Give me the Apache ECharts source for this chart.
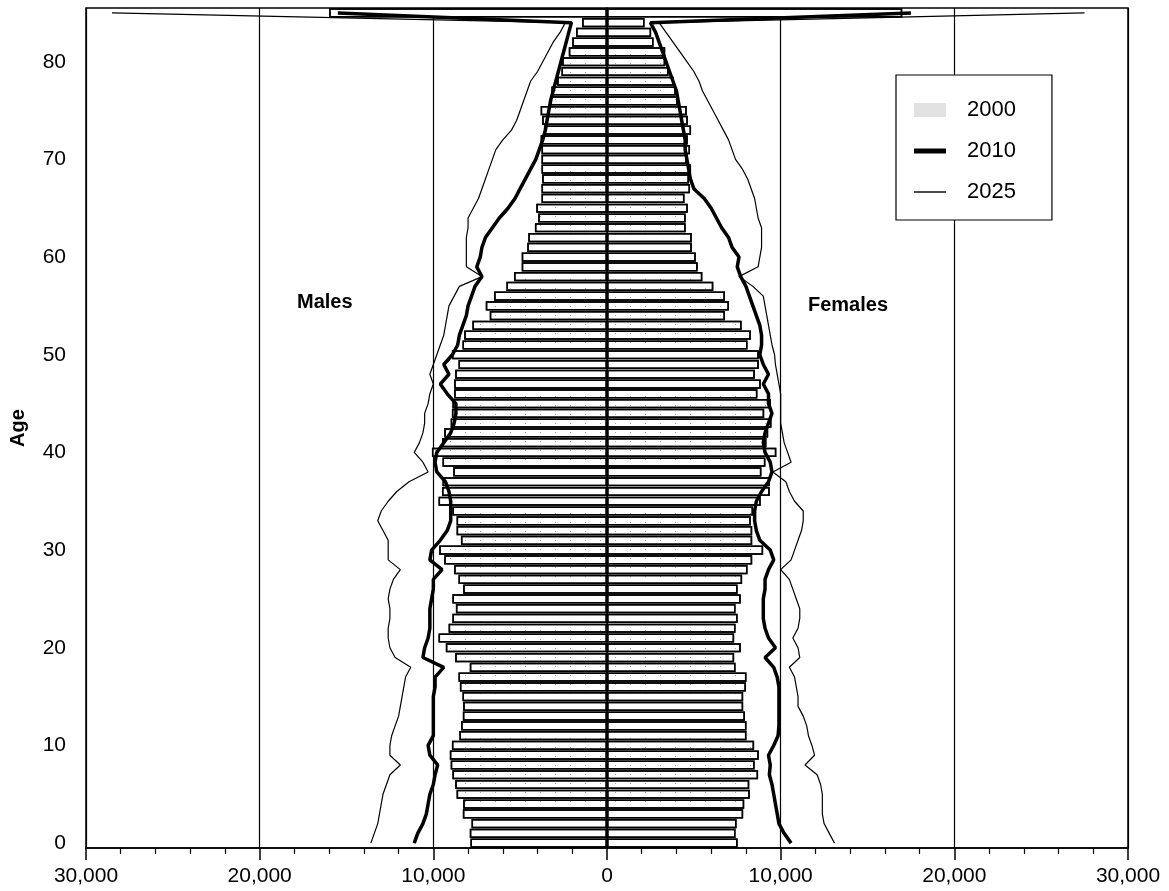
<!DOCTYPE html>
<html><head><meta charset="utf-8">
<script src="https://cdn.jsdelivr.net/npm/echarts@6/dist/echarts.min.js"></script>
<style>html,body{margin:0;padding:0;background:#fff}#c{width:1169px;height:891px}</style>
</head><body><div id="c"></div>
<script>
const ages = ['0','1','2','3','4','5','6','7','8','9','10','11','12','13','14','15','16','17','18','19','20','21','22','23','24','25','26','27','28','29','30','31','32','33','34','35','36','37','38','39','40','41','42','43','44','45','46','47','48','49','50','51','52','53','54','55','56','57','58','59','60','61','62','63','64','65','66','67','68','69','70','71','72','73','74','75','76','77','78','79','80','81','82','83','84','85+'];

// 2000 (bars), persons
const males2000 = [7860,7900,7800,8300,8280,8660,8740,8900,9000,9050,8930,8500,8400,8300,8280,8320,8470,8550,7900,8740,9280,9700,9120,8900,8700,8900,8280,8550,8800,9370,9660,8410,8660,8660,8900,9700,9500,9470,8850,9470,10080,9500,9370,9000,8930,8900,8800,8800,8740,8550,8930,8320,8220,7750,6750,6980,6500,5790,5350,4910,4910,4590,4530,4150,3960,4070,3770,3770,3730,3770,3770,3770,3820,3630,3730,3820,3250,3200,2870,2620,2580,2200,2000,1780,1430,16000];
const females2000 = [7520,7400,7460,7840,7900,8220,8190,8700,8500,8740,8470,8030,8030,7940,7840,7840,8000,8030,7400,7320,7700,7320,7400,7520,7400,7700,7520,7780,8090,8360,8990,8360,8360,8280,8410,8850,9370,9370,8890,9120,9750,9180,9280,9470,9050,9430,8660,8850,8510,8740,8740,8090,8280,7750,6790,7020,6790,6120,5490,5220,5110,4880,4880,4530,4530,4650,4460,4780,4720,4840,4590,4780,4650,4840,4650,4590,4070,3960,3830,3540,3350,3350,2680,2540,2160,17000];

// 2010 (thick line)
const males2010 = [11100,10900,10600,10400,10300,10200,10000,9900,9750,10200,10300,10000,10000,10000,10000,10000,9900,9900,9400,10600,10500,10300,10200,10200,10200,10100,10000,10000,9500,10200,10100,9600,9200,9000,9000,9000,9100,9300,9800,9900,9800,9400,9000,8800,8700,8700,9200,9600,9100,9400,8900,8600,8500,8300,8100,8000,7800,7600,7200,7500,7300,7200,7000,6600,6200,5700,5300,5000,4700,4400,4100,3900,3700,3550,3450,3350,3250,3100,2950,2800,2650,2500,2350,2200,2050,15500];
const females2010 = [10600,10200,9900,9800,9700,9600,9500,9350,9400,9300,9600,9850,9900,9900,9900,9900,9900,9800,9600,9100,9700,9300,9100,9000,9000,9000,9100,9100,9300,9600,9400,8800,8600,8500,8500,8600,8900,9300,9500,9400,9100,9000,9100,9300,9500,9300,9300,9000,9300,9000,8800,8900,8900,8800,8600,8400,8200,8000,7700,7500,7600,7200,7000,6600,6300,6000,5600,5000,4800,4700,4600,4500,4500,4400,4300,4200,4100,4000,3800,3600,3400,3200,3000,2800,2500,17500];

// 2025 (thin line)
const males2025 = [13600,13400,13200,13100,13000,12900,12700,12500,11900,12500,12500,12400,12200,12000,11900,11800,11700,11600,11300,12200,12500,12600,12600,12500,12500,12600,12500,12300,11900,12600,12600,12600,12900,13200,13000,12600,12100,11400,10300,10600,11100,10800,10600,10500,10500,10300,10200,10000,10200,10000,9800,9600,9400,9300,9200,9100,8800,8500,7200,8100,8100,8100,8100,8000,8000,7700,7400,7200,7000,6800,6600,6400,6000,5500,5200,5000,4800,4600,4400,4000,3700,3400,3100,2700,2400,28500];
const females2025 = [13100,12800,12500,12400,12400,12400,12300,12100,11400,11950,11800,11600,11500,11300,11000,11000,10900,10800,10500,11100,11000,10700,11000,11100,11100,10900,10700,10500,10000,10600,10800,11000,11200,11300,11300,10800,10500,10300,9550,10600,10400,10200,10100,10000,10000,10000,10000,9900,9800,9700,9650,9500,9400,9300,9200,9100,9000,8400,7600,8700,8800,8900,8900,8900,8700,8600,8500,8300,8100,7800,7400,7200,7000,6700,6400,6100,5800,5500,5300,5000,4600,4200,3800,3400,3000,27500];

const xTicks = [-30000,-20000,-10000,0,10000,20000,30000];
const FONT = '"Liberation Sans", Arial, sans-serif';
const neg = a => a.map(v => -v);

const barStyle = {
  color: '#ffffff', borderColor: '#000', borderWidth: 1.5,
  decal: { symbol: 'rect', symbolSize: 1, color: 'rgba(0,0,0,0.35)', dashArrayX: [1, 14], dashArrayY: [1, 8], rotation: 0 }
};

const chart = echarts.init(document.getElementById('c'), null, {renderer: 'canvas'});
chart.setOption({
  animation: false,
  backgroundColor: '#fff',
  grid: { left: 82, right: 41, top: 8, bottom: 43, show: true, borderColor: '#000', borderWidth: 1.5, containLabel: false },
  xAxis: {
    type: 'value', min: xTicks[0], max: xTicks[xTicks.length - 1], interval: 10000,
    axisLine: { show: true, lineStyle: { color: '#000', width: 1.5 } },
    axisTick: { show: true, length: 12, lineStyle: { color: '#000', width: 1.5 } },
    minorTick: { show: true, splitNumber: 5, length: 6, lineStyle: { color: '#000', width: 1.2 } },
    splitLine: { show: true, lineStyle: { color: '#000', width: 1.2 } },
    axisLabel: { margin: 18, color: '#000', fontSize: 21, fontFamily: FONT,
      formatter: v => Math.abs(v).toLocaleString('en-US') }
  },
  yAxis: {
    type: 'category', data: ages, boundaryGap: true,
    name: 'Age', nameLocation: 'middle', nameGap: 58, nameRotate: 90,
    nameTextStyle: { fontSize: 20, fontWeight: 'bold', fontFamily: FONT, color: '#000' },
    axisLine: { show: true, lineStyle: { color: '#000', width: 1.5 } },
    axisTick: { show: false },
    axisLabel: { interval: 9, margin: 20, color: '#000', fontSize: 21, fontFamily: FONT }
  },
  legend: {
    orient: 'vertical', left: 896, top: 75,
    padding: [24, 36, 17, 18], itemGap: 19, itemWidth: 32, itemHeight: 14,
    borderColor: '#000', borderWidth: 1.2, backgroundColor: '#fff',
    textStyle: { fontSize: 22, fontFamily: FONT, color: '#000', padding: [0, 0, 0, 16] },
    data: [
      { name: '2000', icon: 'rect', itemStyle: { color: '#e2e2e2', borderWidth: 0, decal: 'none' } },
      { name: '2010', icon: 'path://M0,0H32V5H0Z', itemStyle: { color: '#000', borderWidth: 0 } },
      { name: '2025', icon: 'path://M0,0H32V1.4H0Z', itemStyle: { color: '#000', borderWidth: 0 } }
    ]
  },
  graphic: [
    { type: 'text', left: 297, top: 292, style: { text: 'Males', font: 'bold 20px ' + FONT, fill: '#000' } },
    { type: 'text', left: 808, top: 295, style: { text: 'Females', font: 'bold 20px ' + FONT, fill: '#000' } }
  ],
  series: [
    { name: '2000', type: 'bar', data: neg(males2000), barGap: '-100%', barCategoryGap: '6%', itemStyle: barStyle, z: 2 },
    { name: '2000', type: 'bar', data: females2000, barGap: '-100%', barCategoryGap: '6%', itemStyle: barStyle, z: 2 },
    { name: '2010', type: 'line', data: neg(males2010), symbol: 'none', lineStyle: { color: '#000', width: 3.5 }, itemStyle: { color: '#000' }, z: 5 },
    { name: '2010', type: 'line', data: females2010, symbol: 'none', lineStyle: { color: '#000', width: 3.5 }, itemStyle: { color: '#000' }, z: 5 },
    { name: '2025', type: 'line', data: neg(males2025), symbol: 'none', lineStyle: { color: '#000', width: 1.2 }, itemStyle: { color: '#000' }, z: 4 },
    { name: '2025', type: 'line', data: females2025, symbol: 'none', lineStyle: { color: '#000', width: 1.2 }, itemStyle: { color: '#000' }, z: 4 }
  ]
});
</script>
</body></html>
